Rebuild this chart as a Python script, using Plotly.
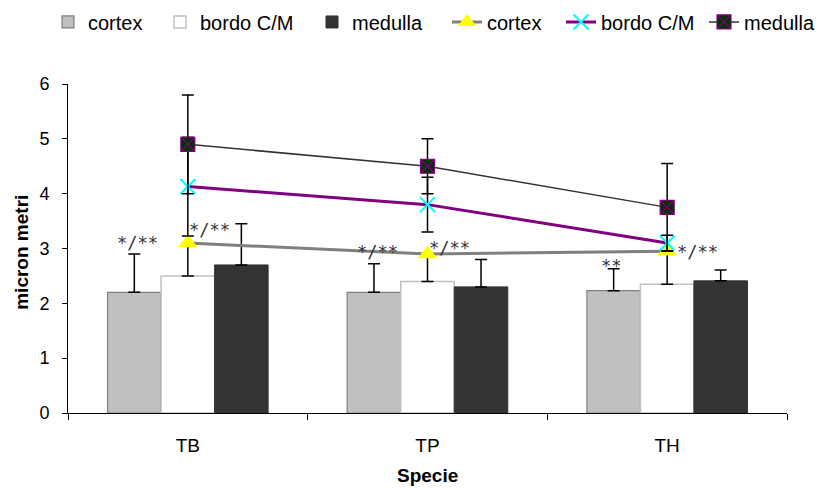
import plotly.graph_objects as go

# Categories (species)
species = ["TB", "TP", "TH"]

# Bar series (mean values) and their upper error
bar_cortex = [2.2, 2.2, 2.23]
bar_cortex_err = [0.7, 0.52, 0.4]
bar_bordo = [2.5, 2.4, 2.35]
bar_bordo_err = [0.6, 0.5, 0.6]
bar_medulla = [2.7, 2.3, 2.41]
bar_medulla_err = [0.75, 0.5, 0.2]

# Line series (mean values) and symmetric error
line_cortex = [3.1, 2.9, 2.95]
line_bordo = [4.13, 3.8, 3.1]
line_bordo_err = [0.9, 0.5, 0.14]
line_medulla = [4.9, 4.5, 3.75]
line_medulla_err = [0.9, 0.5, 0.8]

# Significance labels: (species, value, text, pixel offset from category centre)
sig_species = ["TB", "TB", "TP", "TP", "TH", "TH"]
sig_y = [3.16, 3.39, 3.0, 3.07, 2.74, 3.0]
sig_text = ["*/**", "*/**", "*/**", "*/**", "**", "*/**"]
sig_dx = [-50, 22, -50, 22, -56, 30]

# Left edge (px) of each legend entry, one legend per series
legend_left_px = [48, 160, 312, 447, 561, 704]

font_main = "Liberation Sans, Arial, sans-serif"

fig = go.Figure()

def bar_err(vals):
    return dict(type="data", array=vals, arrayminus=[0] * len(vals), symmetric=False,
                color="black", thickness=1.5, width=6)

def sym_err(vals):
    return dict(type="data", array=vals, color="black", thickness=1.5, width=6)

fig.add_trace(go.Bar(name="cortex", x=species, y=bar_cortex, error_y=bar_err(bar_cortex_err),
                     marker=dict(color="#C0C0C0", line=dict(color="#808080", width=1.2)),
                     legend="legend"))
fig.add_trace(go.Bar(name="bordo C/M", x=species, y=bar_bordo, error_y=bar_err(bar_bordo_err),
                     marker=dict(color="#FFFFFF", line=dict(color="#C0C0C0", width=1.5)),
                     legend="legend2"))
fig.add_trace(go.Bar(name="medulla", x=species, y=bar_medulla, error_y=bar_err(bar_medulla_err),
                     marker=dict(color="#333333", line=dict(color="#333333", width=1)),
                     legend="legend3"))

fig.add_trace(go.Scatter(name="cortex", x=species, y=line_cortex, mode="lines+markers",
                         line=dict(color="#808080", width=3),
                         marker=dict(symbol="triangle-up", size=17, color="#FFFF00",
                                     line=dict(width=0)),
                         legend="legend4"))
fig.add_trace(go.Scatter(name="bordo C/M", x=species, y=line_bordo, mode="lines+markers",
                         error_y=sym_err(line_bordo_err),
                         line=dict(color="#800080", width=3),
                         marker=dict(symbol="x-thin", size=15, color="#00FFFF",
                                     line=dict(color="#00FFFF", width=2)),
                         legend="legend5"))
fig.add_trace(go.Scatter(name="medulla", x=species, y=line_medulla, mode="lines+markers",
                         error_y=sym_err(line_medulla_err),
                         line=dict(color="#333333", width=1.5),
                         marker=dict(symbol="square-x", size=14, color="#003300",
                                     line=dict(color="#800080", width=1.2)),
                         legend="legend6"))

for s, yv, t, dx in zip(sig_species, sig_y, sig_text, sig_dx):
    fig.add_annotation(x=s, y=yv, text=t, showarrow=False, xshift=dx, yshift=-3,
                       font=dict(family="DejaVu Sans Mono, Courier New, monospace",
                                 size=17, color="#333333"))

# Axis titles
fig.add_annotation(text="<b>Specie</b>", xref="paper", yref="paper", x=0.5, y=-0.19,
                   xanchor="center", yanchor="middle", showarrow=False,
                   font=dict(family=font_main, size=19, color="black"))
fig.add_annotation(text="<b>micron metri</b>", xref="paper", yref="paper", x=-0.064, y=0.49,
                   xanchor="center", yanchor="middle", textangle=-90, showarrow=False,
                   font=dict(family=font_main, size=19, color="black"))

axis_common = dict(range=[0, 6], dtick=1, showgrid=False, zeroline=False, showline=True,
                   linecolor="black", linewidth=1, ticks="outside", ticklen=5,
                   tickcolor="black", tickfont=dict(family=font_main, size=18, color="black"),
                   ticklabelstandoff=9)

legend_common = dict(orientation="h", xref="container", yref="container", y=0.995,
                     xanchor="left", yanchor="top", font=dict(family=font_main, size=20),
                     itemwidth=30, tracegroupgap=0, bgcolor="rgba(0,0,0,0)")

legends = {}
for i, px in enumerate(legend_left_px):
    key = "legend" if i == 0 else f"legend{i + 1}"
    legends[key] = dict(x=px / 820, **legend_common)

fig.update_layout(
    width=820, height=488,
    margin=dict(l=68, r=33, t=84, b=75, autoexpand=False),
    paper_bgcolor="white", plot_bgcolor="white",
    barmode="group", bargap=0.33, bargroupgap=0,
    font=dict(family=font_main, color="black"),
    xaxis=dict(showgrid=False, showline=True, linecolor="black", linewidth=1,
               ticks="outside", ticklen=6, tickcolor="black", tickson="boundaries",
               tickfont=dict(family=font_main, size=19, color="black"),
               ticklabelstandoff=15),
    yaxis=dict(**axis_common),
    yaxis2=dict(overlaying="y", side="right", anchor="x", **axis_common),
    showlegend=True,
    **legends,
)

fig.write_html("out.html")
